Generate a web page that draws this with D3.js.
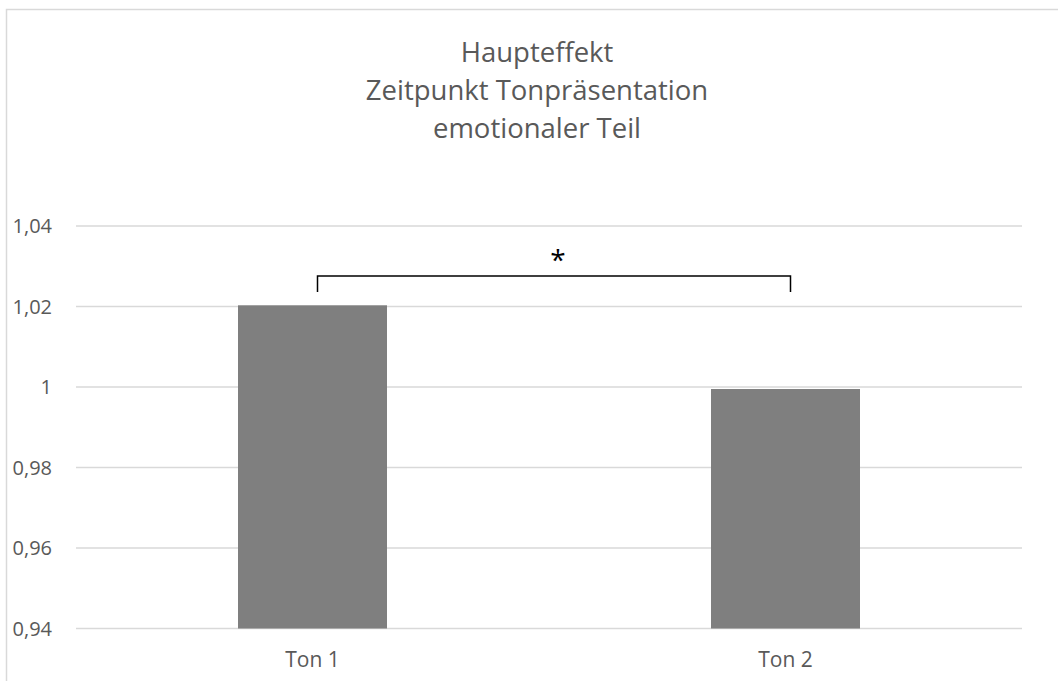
<!DOCTYPE html>
<html>
<head>
<meta charset="utf-8">
<script src="https://cdn.jsdelivr.net/npm/d3@7"></script>
<style>
  html, body { margin: 0; padding: 0; background: #fff; }
  svg text { font-family: "Open Sans", "Noto Sans", sans-serif; fill: #595959; }
</style>
</head>
<body>
<div id="chart"></div>
<script>
(function() {
  var categories = ['Ton 1', 'Ton 2'];
  var values = [1.0203, 0.9995];
  var yTicks = [0.94, 0.96, 0.98, 1, 1.02, 1.04];
  var titleLines = ['Haupteffekt', 'Zeitpunkt Tonpräsentation', 'emotionaler Teil'];
  var signif = [{ from: 'Ton 1', to: 'Ton 2', label: '*', level: 1.0276 }];

  var width = 1058, height = 681;
  var plot = { left: 76, right: 1022, top: 226, bottom: 628.5 };

  var svg, x, y, fmt, g, bw;

  svg = d3.select('#chart').append('svg')
    .attr('width', width)
    .attr('height', height);

  // chart frame (only top + left edges are visible in the crop)
  svg.append('path')
    .attr('d', 'M6.5,' + (height + 5) + 'V9.5H' + (width + 5))
    .attr('fill', 'none')
    .attr('stroke', '#d9d9d9')
    .attr('stroke-width', 1.5);

  // title
  svg.append('g').selectAll('text')
    .data(titleLines)
    .enter().append('text')
    .attr('x', 537)
    .attr('y', function(d, i) { return 62 + i * 38; })
    .attr('text-anchor', 'middle')
    .style('font-size', '27.5px')
    .text(function(d) { return d; });

  x = d3.scaleBand().domain(categories).range([plot.left, plot.right]).padding(0);
  y = d3.scaleLinear().domain([0.94, 1.04]).range([plot.bottom, plot.top]);
  fmt = function(v) { return d3.format('~r')(+v.toFixed(2)).replace('.', ','); };
  bw = x.bandwidth() * 0.315;

  // gridlines + y labels
  g = svg.append('g').attr('class', 'y-axis');
  g.selectAll('line')
    .data(yTicks)
    .enter().append('line')
    .attr('x1', plot.left)
    .attr('x2', plot.right)
    .attr('y1', function(d) { return y(d); })
    .attr('y2', function(d) { return y(d); })
    .attr('stroke', '#d9d9d9')
    .attr('stroke-width', 1.3);
  g.selectAll('text')
    .data(yTicks)
    .enter().append('text')
    .attr('x', 52)
    .attr('y', function(d) { return y(d); })
    .attr('dy', '0.36em')
    .attr('text-anchor', 'end')
    .style('font-size', '20px')
    .text(fmt);

  // bars
  svg.append('g').selectAll('rect')
    .data(values)
    .enter().append('rect')
    .attr('x', function(d, i) { return x(categories[i]) + x.bandwidth() / 2 - bw / 2; })
    .attr('width', bw)
    .attr('y', function(d) { return y(d); })
    .attr('height', function(d) { return y(0.94) - y(d); })
    .attr('fill', '#7f7f7f');

  // category labels
  svg.append('g').selectAll('text')
    .data(categories)
    .enter().append('text')
    .attr('x', function(d) { return x(d) + x.bandwidth() / 2; })
    .attr('y', 667)
    .attr('text-anchor', 'middle')
    .style('font-size', '21px')
    .text(function(d) { return d; });

  // significance bracket
  signif.forEach(function(s) {
    var x1 = x(s.from) + x.bandwidth() / 2 + 5,
        x2 = x(s.to) + x.bandwidth() / 2 + 5,
        yy = y(s.level);
    svg.append('path')
      .attr('d', 'M' + x1 + ',' + (yy + 16) + 'V' + yy + 'H' + x2 + 'V' + (yy + 16))
      .attr('fill', 'none')
      .attr('stroke', '#000')
      .attr('stroke-width', 1.5);
    svg.append('text')
      .attr('x', (x1 + x2) / 2 + 4)
      .attr('y', yy - 6)
      .attr('text-anchor', 'middle')
      .style('font-size', '28px')
      .style('fill', '#000')
      .text(s.label);
  });
}).call(this);
</script>
</body>
</html>
